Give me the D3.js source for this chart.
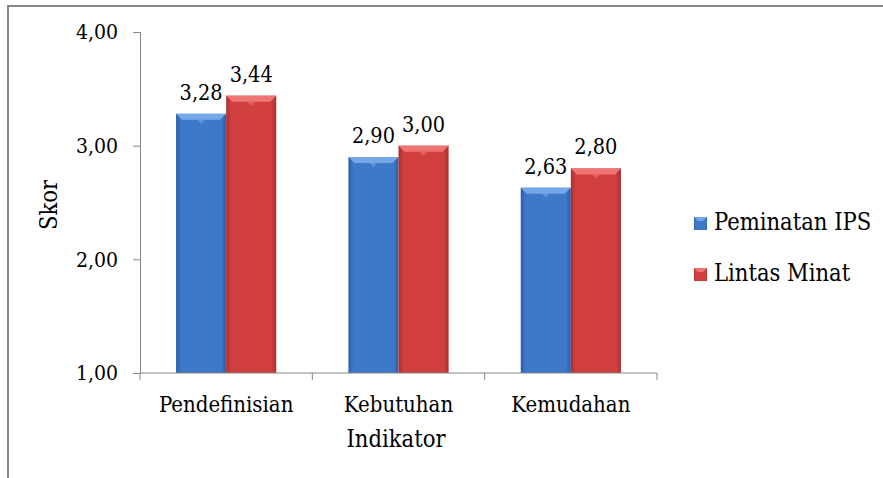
<!DOCTYPE html>
<html>
<head>
<meta charset="utf-8">
<script src="https://d3js.org/d3.v7.min.js"></script>
<style>
  html, body { margin: 0; padding: 0; background: #fff; }
  svg { display: block; }
  text { font-family: "DejaVu Serif Condensed", "DejaVu Serif", serif; fill: #000; }
</style>
</head>
<body>
<div id="chart"></div>
<script>
// data
var categories = ["Pendefinisian", "Kebutuhan", "Kemudahan"];
var seriesNames = ["Peminatan IPS", "Lintas Minat"];
var peminatan = [3.28, 2.90, 2.63];
var lintas = [3.44, 3.00, 2.80];
var yTicks = [1, 2, 3, 4];

var W = 883, H = 478;
var svg = d3.select("#chart").append("svg").attr("width", W).attr("height", H);

// chart border (runs off right and bottom edge)
svg.append("rect")
    .attr("x", 8).attr("y", 6)
    .attr("width", W).attr("height", H)
    .attr("fill", "none").attr("stroke", "#868686").attr("stroke-width", 2);

var x0 = d3.scaleBand().domain(categories).range([140, 657]).padding(0);
var x1 = d3.scaleBand().domain(seriesNames).range([0, x0.bandwidth()])
    .paddingInner(0).paddingOuter(0.72);
var y = d3.scaleLinear().domain([1, 4]).range([373, 32]);

var fmt = function(v) { return d3.format(".2f")(v).replace(".", ","); };

var colors = {
    "Peminatan IPS": { mid: "#3d78c9", dark: "#2c5fa6", light: "#74a6e8" },
    "Lintas Minat": { mid: "#d23f3f", dark: "#a92f2f", light: "#ef7474" }
};

var defs = svg.append("defs");
seriesNames.forEach(function(s, i) {
    var c = colors[s];
    var g = defs.append("linearGradient").attr("id", "g" + i)
        .attr("x1", 0).attr("x2", 1).attr("y1", 0).attr("y2", 0);
    g.append("stop").attr("offset", "0%").attr("stop-color", c.dark);
    g.append("stop").attr("offset", "10%").attr("stop-color", c.mid);
    g.append("stop").attr("offset", "90%").attr("stop-color", c.mid);
    g.append("stop").attr("offset", "100%").attr("stop-color", c.dark);
});

// y axis
var yAxis = svg.append("g").attr("transform", "translate(140,0)")
    .call(d3.axisLeft(y).tickValues(yTicks).tickSize(7).tickPadding(15).tickFormat(fmt));
yAxis.select(".domain").attr("stroke", "#868686");
yAxis.selectAll(".tick line").attr("stroke", "#868686");
yAxis.selectAll(".tick text").attr("font-size", 21)
    .attr("font-family", "'DejaVu Serif Condensed', 'DejaVu Serif', serif");

// bars
var rows = categories.map(function(c, i) {
    return { cat: c, vals: [peminatan[i], lintas[i]] };
});

var groups = svg.selectAll(".grp").data(rows).enter().append("g")
    .attr("transform", function(d) { return "translate(" + x0(d.cat) + ",0)"; });

groups.each(function(d) {
    var g = d3.select(this);
    d.vals.forEach(function(v, i) {
        var s = seriesNames[i], c = colors[s];
        var bx = x1(s), bw = x1.bandwidth(), by = y(v), bh = y(1) - y(v);
        g.append("rect").attr("x", bx).attr("y", by).attr("width", bw).attr("height", bh)
            .attr("fill", "url(#g" + i + ")");
        // top bevel
        var b = 6;
        g.append("path")
            .attr("d", "M" + bx + "," + by + "L" + (bx + bw) + "," + by +
                "L" + (bx + bw - b) + "," + (by + b) + "L" + (bx + b) + "," + (by + b) + "Z")
            .attr("fill", c.light);
        g.append("path")
            .attr("d", "M" + (bx + bw / 2 - 4) + "," + (by + b) + "L" + (bx + bw / 2 + 4) + "," + (by + b) +
                "L" + (bx + bw / 2) + "," + (by + b + 4) + "Z")
            .attr("fill", c.light).attr("opacity", 0.6);
        g.append("text")
            .attr("x", bx + bw / 2).attr("y", by - 14)
            .attr("text-anchor", "middle").attr("font-size", 21.5)
            .text(fmt(v));
    });
});

// x axis
svg.append("line").attr("x1", 140).attr("x2", 657).attr("y1", 373).attr("y2", 373)
    .attr("stroke", "#868686");
var bounds = categories.map(function(c) { return x0(c); }).concat([x0.range()[1]]);
svg.selectAll(".xt").data(bounds).enter().append("line")
    .attr("x1", function(d) { return d; }).attr("x2", function(d) { return d; })
    .attr("y1", 373).attr("y2", 380).attr("stroke", "#868686");
svg.selectAll(".xl").data(categories).enter().append("text")
    .attr("x", function(d) { return x0(d) + x0.bandwidth() / 2; })
    .attr("y", 412).attr("text-anchor", "middle").attr("font-size", 22)
    .text(function(d) { return d; });

// axis titles
svg.append("text").attr("x", 396).attr("y", 447).attr("text-anchor", "middle")
    .attr("font-size", 23.5).text("Indikator");
svg.append("text").attr("transform", "translate(57,205) rotate(-90)")
    .attr("text-anchor", "middle").attr("font-size", 23.5).text("Skor");

// legend
var leg = svg.selectAll(".leg").data(seriesNames).enter().append("g")
    .attr("transform", function(d, i) { return "translate(694," + (217 + i * 51) + ")"; });
leg.append("rect").attr("width", 13).attr("height", 13)
    .attr("fill", function(d, i) { return "url(#g" + i + ")"; });
leg.append("path").attr("d", "M0,0L13,0L9,4L4,4Z")
    .attr("fill", function(d) { return colors[d].light; });
leg.append("text").attr("x", 20).attr("y", 13).attr("font-size", 23.5)
    .text(function(d) { return d; });
</script>
</body>
</html>
